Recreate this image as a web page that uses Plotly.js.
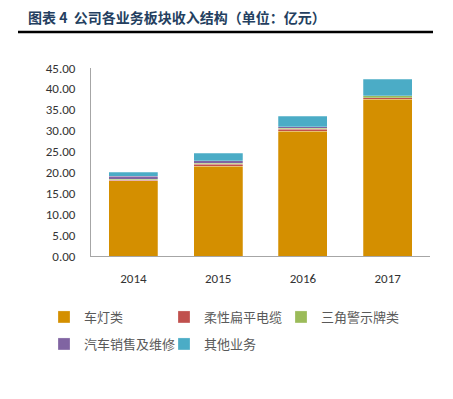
<!DOCTYPE html>
<html><head><meta charset="utf-8">
<script src="https://cdn.plot.ly/plotly-3.0.1.min.js"></script>
<style>html,body{margin:0;padding:0;background:#fff}#c{width:453px;height:399px}</style>
</head><body><div id="c"></div>
<script>
const years = ['2014','2015','2016','2017'];
const seriesNames = ['车灯类','柔性扁平电缆','三角警示牌类','汽车销售及维修','其他业务'];
const lamp = [18.0, 21.5, 29.9, 37.5];
const cable = [0.15, 0.5, 0.4, 0.4];
const triangle = [0.25, 0.2, 0.25, 0.4];
const carSales = [0.7, 0.6, 0.35, 0.05];
const other = [1.0, 1.8, 2.55, 4.0];
const yTicks = [0,5,10,15,20,25,30,35,40,45];

const values = [lamp, cable, triangle, carSales, other];
const colors = ['#D48F00','#C0504D','#9BBB59','#8064A2','#4BACC6'];
const legendIds = ['legend','legend2','legend3','legend4','legend5'];
const legendPos = [[44,317],[164,317],[281,317],[44,344],[164,344]];

const font = "'Noto Sans CJK SC', 'Noto Sans', sans-serif";
const numFont = "Carlito, Lato, sans-serif";
const traces = seriesNames.map((n,i)=>({
  type:'bar', name:n, x:years, y:values[i], legend:legendIds[i],
  marker:{color:colors[i], line:{color:'rgba(255,255,255,0.5)', width:0.5}},
  hoverinfo:'skip'
}));

const layout = {
  width:453, height:399,
  margin:{l:91, r:23, t:68, b:143},
  paper_bgcolor:'#fff', plot_bgcolor:'#fff',
  barmode:'stack', bargap:0.42,
  font:{family:font, size:12, color:'#333'},
  title:{text:'<b>图表 4  公司各业务板块收入结构（单位：亿元）</b>', xref:'container', yref:'container',
    x:28/453, xanchor:'left', y:1-18/399, yanchor:'middle',
    font:{family:font, size:14, color:'#243F60'}},
  xaxis:{showgrid:false, showline:true, linecolor:'#A6A6A6', linewidth:1, ticks:'',
    ticklabelstandoff:10,
    tickfont:{family:numFont, size:13, color:'#333'}, fixedrange:true},
  yaxis:{range:[0,45], tickvals:yTicks, tickformat:'.2f', showgrid:false, zeroline:false,
    showline:true, linecolor:'#A6A6A6', linewidth:1, ticks:'', ticklabelstandoff:12,
    tickfont:{family:numFont, size:13, color:'#333'}, fixedrange:true},
  shapes:[{type:'line', xref:'paper', yref:'paper', x0:(18-91)/339, x1:(433-91)/339,
    y0:(256-32)/188, y1:(256-32)/188, line:{color:'#000', width:2.5}}],
  showlegend:true
};
legendIds.forEach((id,i)=>{
  layout[id] = {xref:'container', yref:'container', x:legendPos[i][0]/453, y:1-legendPos[i][1]/399,
    xanchor:'left', yanchor:'middle', orientation:'h', bgcolor:'rgba(0,0,0,0)',
    itemwidth:30, font:{family:font, size:13, color:'#595959'}};
});
Plotly.newPlot('c', traces, layout, {staticPlot:true, displayModeBar:false});
</script></body></html>
